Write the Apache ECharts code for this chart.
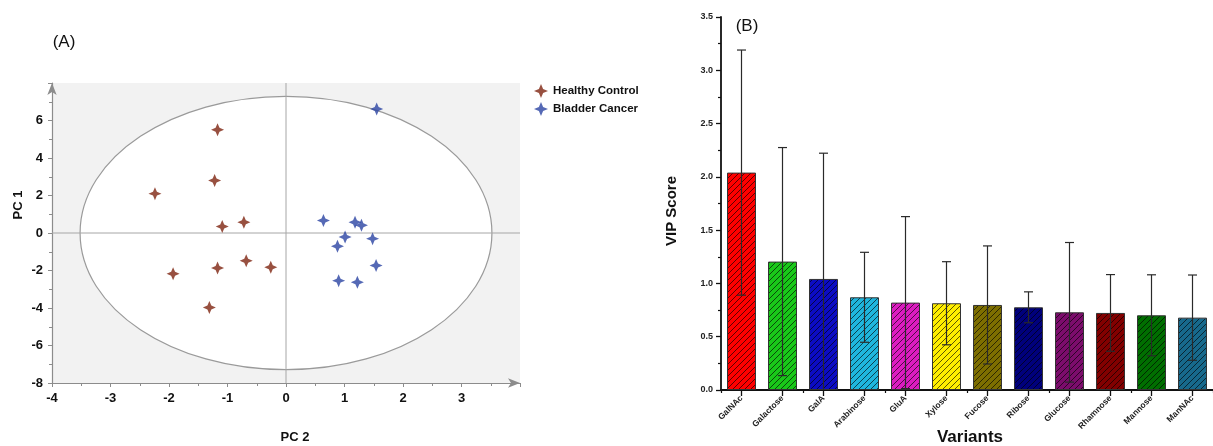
<!DOCTYPE html>
<html>
<head>
<meta charset="utf-8">
<title>PCA scores and VIP scores</title>
<script src="https://cdn.jsdelivr.net/npm/echarts@6/dist/echarts.min.js"></script>
<style>
	html, body { margin: 0; padding: 0; background: #fff; }
	#chart { width: 1213px; height: 446px; }
</style>
</head>
<body>
<div id="chart"></div>
<script>
// (A) PCA scores, each point is [PC 2, PC 1]
const healthyControl = [
	[-1.17, 5.51], [-1.22, 2.80], [-2.24, 2.10], [-1.09, 0.35], [-0.72, 0.57],
	[-1.93, -2.17], [-1.17, -1.87], [-0.68, -1.48], [-0.26, -1.83], [-1.31, -3.97]
];
const bladderCancer = [
	[1.55, 6.61], [0.64, 0.67], [1.18, 0.57], [1.29, 0.41], [1.01, -0.21],
	[0.88, -0.71], [1.48, -0.30], [1.54, -1.73], [0.90, -2.54], [1.22, -2.63]
];
// confidence ellipse centred on the origin: [half width on PC 2, half height on PC 1]
const ellipseCentre = [0, 0];
const ellipseRadii = [3.52, 7.29];

// (B) VIP scores
const variants = ['GalNAc', 'Galactose', 'GalA', 'Arabinose', 'GluA', 'Xylose',
	'Fucose', 'Ribose', 'Glucose', 'Rhamnose', 'Mannose', 'ManNAc'];
const vipScore = [2.04, 1.205, 1.042, 0.870, 0.820, 0.814, 0.798, 0.776, 0.729, 0.723, 0.701, 0.679];
const vipError = [1.15, 1.07, 1.18, 0.422, 0.807, 0.39, 0.554, 0.145, 0.655, 0.36, 0.38, 0.40];

const barColors = ['#ff0000', '#19c819', '#0c0cc4', '#1fb6de', '#dc1cc0', '#ffee00',
	'#7d6e00', '#00007c', '#7c0c6c', '#820000', '#006e00', '#17698c'];
const starIcon = 'path://M10,0 L13,7 L20,10 L13,13 L10,20 L7,13 L0,10 L7,7 Z';
const FONT = 'Arial, "Liberation Sans", sans-serif';

// diagonal hatch fill for the bars
function hatch(color) {
	const c = document.createElement('canvas');
	c.width = 6;
	c.height = 6;
	const ctx = c.getContext('2d');
	ctx.fillStyle = color;
	ctx.fillRect(0, 0, 6, 6);
	ctx.strokeStyle = 'rgba(0,0,0,0.8)';
	ctx.lineWidth = 0.8;
	ctx.beginPath();
	ctx.moveTo(0, 6); ctx.lineTo(6, 0);
	ctx.moveTo(-1, 1); ctx.lineTo(1, -1);
	ctx.moveTo(5, 7); ctx.lineTo(7, 5);
	ctx.stroke();
	return { image: c, repeat: 'repeat' };
}

function label(text, x, y, size, weight, rotated) {
	return {
		type: 'text', x: x, y: y, rotation: rotated ? Math.PI / 2 : 0, silent: true,
		style: {
			text: text, font: weight + ' ' + size + 'px ' + FONT, fill: '#111',
			align: 'center', verticalAlign: 'middle', textAlign: 'center', textVerticalAlign: 'middle'
		}
	};
}

const grayAxis = '#8c8c8c';
const chart = echarts.init(document.getElementById('chart'), null, { renderer: 'canvas' });

chart.setOption({
	animation: false,
	textStyle: { fontFamily: FONT },
	grid: [
		{ left: 52, top: 83, width: 468, height: 300, show: true, backgroundColor: '#f2f2f2', borderWidth: 0 },
		{ left: 721, top: 17, width: 500, height: 373 }
	],
	legend: {
		orient: 'vertical', left: 529, top: 79, itemWidth: 14, itemHeight: 14, itemGap: 4,
		textStyle: { fontFamily: FONT, fontSize: 11.5, fontWeight: 'bold', color: '#111' },
		data: [
			{ name: 'Healthy Control', icon: starIcon },
			{ name: 'Bladder Cancer', icon: starIcon }
		]
	},
	graphic: [
		label('(A)', 64, 42, 17, 'normal'),
		label('PC 1', 18, 205, 13, 'bold', true),
		label('PC 2', 295, 437, 13, 'bold'),
		label('(B)', 747, 26, 17, 'normal'),
		label('VIP Score', 672, 211, 15, 'bold', true),
		label('Variants', 970, 437, 17, 'bold')
	],
	xAxis: [
		{
			gridIndex: 0, type: 'value', min: -4, max: 4, interval: 1,
			axisLine: { show: true, onZero: false, symbol: ['none', 'arrow'], symbolSize: [7, 12], lineStyle: { color: grayAxis, width: 1.2 } },
			axisTick: { show: true, length: 4, lineStyle: { color: grayAxis } },
			minorTick: { show: true, splitNumber: 2, length: 3, lineStyle: { color: grayAxis } },
			axisLabel: { color: '#111', fontWeight: 'bold', fontSize: 13, margin: 9, formatter: v => (v === 4 ? '' : v) },
			splitLine: { show: false }
		},
		{
			gridIndex: 1, type: 'category', data: variants,
			axisLine: { show: true, lineStyle: { color: '#111', width: 1.8 } },
			axisTick: { show: true, alignWithLabel: true, length: 6, lineStyle: { color: '#111', width: 1.3 } },
			axisLabel: { interval: 0, rotate: 45, fontSize: 8.5, fontWeight: 'bold', color: '#222', margin: 7 }
		},
		{
			// short ticks on the category boundaries
			gridIndex: 1, type: 'category', data: variants, position: 'bottom',
			axisLine: { show: false },
			axisTick: { show: true, alignWithLabel: false, length: 3, lineStyle: { color: '#111', width: 1.2 } },
			axisLabel: { show: false }
		}
	],
	yAxis: [
		{
			gridIndex: 0, type: 'value', min: -8, max: 8, interval: 2,
			axisLine: { show: true, onZero: false, symbol: ['none', 'arrow'], symbolSize: [7, 12], lineStyle: { color: grayAxis, width: 1.2 } },
			axisTick: { show: true, length: 4, lineStyle: { color: grayAxis } },
			minorTick: { show: true, splitNumber: 2, length: 3, lineStyle: { color: grayAxis } },
			axisLabel: { color: '#111', fontWeight: 'bold', fontSize: 13, margin: 9, formatter: v => (v === 8 ? '' : v) },
			splitLine: { show: false }
		},
		{
			gridIndex: 1, type: 'value', min: 0, max: 3.5, interval: 0.5,
			axisLine: { show: true, lineStyle: { color: '#111', width: 1.8 } },
			axisTick: { show: true, length: 5, lineStyle: { color: '#111', width: 1.3 } },
			minorTick: { show: true, splitNumber: 2, length: 3, lineStyle: { color: '#111', width: 1.2 } },
			axisLabel: { color: '#222', fontWeight: 'bold', fontSize: 9, margin: 8, formatter: v => v.toFixed(1) },
			splitLine: { show: false }
		}
	],
	series: [
		{
			// confidence ellipse and the crosshair through the origin
			type: 'custom', xAxisIndex: 0, yAxisIndex: 0, silent: true, z: 1,
			data: [ellipseCentre],
			renderItem(params, api) {
				const c = api.coord([api.value(0), api.value(1)]);
				const r = api.size(ellipseRadii);
				const left = api.coord([-4, 0]), right = api.coord([4, 0]);
				const bottom = api.coord([0, -8]), top = api.coord([0, 8]);
				return {
					type: 'group',
					children: [
						{ type: 'ellipse', shape: { cx: c[0], cy: c[1], rx: r[0], ry: r[1] }, style: { fill: '#fff', stroke: '#9a9a9a', lineWidth: 1.2 } },
						{ type: 'line', shape: { x1: left[0], y1: left[1], x2: right[0], y2: right[1] }, style: { stroke: '#a6a6a6', lineWidth: 1 } },
						{ type: 'line', shape: { x1: bottom[0], y1: bottom[1], x2: top[0], y2: top[1] }, style: { stroke: '#a6a6a6', lineWidth: 1 } }
					]
				};
			}
		},
		{
			name: 'Healthy Control', type: 'scatter', xAxisIndex: 0, yAxisIndex: 0, z: 3,
			symbol: starIcon, symbolSize: 13, itemStyle: { color: '#7e2410' },
			data: healthyControl
		},
		{
			name: 'Bladder Cancer', type: 'scatter', xAxisIndex: 0, yAxisIndex: 0, z: 3,
			symbol: starIcon, symbolSize: 13, itemStyle: { color: '#2a44a2' },
			data: bladderCancer
		},
		{
			name: 'VIP', type: 'bar', xAxisIndex: 1, yAxisIndex: 1, barWidth: 29,
			itemStyle: { borderColor: '#333', borderWidth: 1 },
			data: vipScore.map((v, i) => ({ value: v, itemStyle: { color: hatch(barColors[i]) } }))
		},
		{
			// error bars
			type: 'custom', xAxisIndex: 1, yAxisIndex: 1, silent: true, z: 4,
			data: vipScore.map((v, i) => [i, v - vipError[i], v + vipError[i]]),
			renderItem(params, api) {
				const lowVal = api.value(1);
				const hi = api.coord([api.value(0), api.value(2)]);
				const lo = api.coord([api.value(0), Math.max(lowVal, 0)]);
				const w = 4.5;
				const st = { stroke: '#2a2a2a', lineWidth: 1.2 };
				const children = [
					{ type: 'line', shape: { x1: hi[0], y1: hi[1], x2: lo[0], y2: lo[1] }, style: st },
					{ type: 'line', shape: { x1: hi[0] - w, y1: hi[1], x2: hi[0] + w, y2: hi[1] }, style: st }
				];
				if (lowVal > 0) {
					children.push({ type: 'line', shape: { x1: lo[0] - w, y1: lo[1], x2: lo[0] + w, y2: lo[1] }, style: st });
				}
				return { type: 'group', children: children };
			}
		}
	]
});
</script>
</body>
</html>
